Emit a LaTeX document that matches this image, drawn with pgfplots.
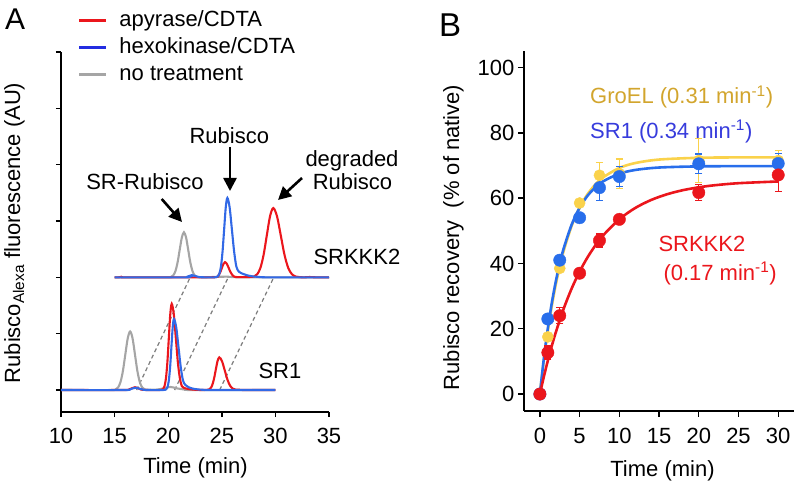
\documentclass[border=0pt]{standalone}
\usepackage{fontspec}
\setmainfont{Liberation Sans}
\usepackage{pgfplots}
\pgfplotsset{compat=1.18}
\usetikzlibrary{arrows.meta}
\definecolor{cred}{RGB}{235,22,28}
\definecolor{cblueA}{RGB}{50,105,230}
\definecolor{cblueL}{RGB}{35,45,225}
\definecolor{cgray}{RGB}{165,165,165}
\definecolor{cdash}{RGB}{125,125,125}
\definecolor{cblueB}{RGB}{40,110,235}
\definecolor{cyel}{RGB}{250,210,75}
\definecolor{cgold}{RGB}{210,165,45}
\definecolor{csr1}{RGB}{55,60,220}
\newcommand{\F}{\fontsize{22}{26}\selectfont}
\pgfplotsset{mystyle/.style={scale only axis, anchor=south west,
  axis x line*=bottom, axis y line*=left, tick align=outside,
  axis line style={line width=1.6pt, black},
  tick style={line width=1.4pt, black},
  tick label style={font=\F},
  /pgf/number format/assume math mode=true,
  xticklabel style={inner sep=0pt, yshift=-11pt},
  yticklabel style={inner sep=0pt, xshift=-3.5pt}},
  myerr/.style={error bars/.cd, y dir=both, y explicit,
  error bar style={line width=1.3pt},
  error mark options={rotate=90, mark size=3.5pt, line width=1.3pt}}}
\begin{document}
\begin{tikzpicture}[font=\F]
% ---------------- Panel A ----------------
\begin{axis}[mystyle, at={(61pt,-412pt)}, width=268pt, height=360pt,
  xmin=10, xmax=35, ymin=-0.39, ymax=6,
  xtick={10,15,...,35}, ytick={0,...,6}, yticklabels={},
  major tick length=5pt,
  legend style={at={(axis description cs:0.063,1.117)}, anchor=north west,
    draw=none, fill=none, inner sep=0pt, font=\F, row sep=6pt,
    nodes={inner sep=0pt, text height=16pt, text depth=5pt},
    /tikz/every odd column/.append style={column sep=12pt}},
  legend cell align=left,
  legend image code/.code={\draw[#1, line width=2.4pt] (0pt,0pt) -- (27pt,0pt);}]
\addlegendimage{cred}
\addlegendimage{cblueL}
\addlegendimage{cgray}
\legend{apyrase/CDTA, hexokinase/CDTA, no treatment}
% dashed guides
\addplot[cdash, line width=1.2pt, dash pattern=on 4pt off 3pt, forget plot] coordinates {(17.05,0) (22.05,2)};
\addplot[cdash, line width=1.2pt, dash pattern=on 4pt off 3pt, forget plot] coordinates {(20.6,0) (25.6,2)};
\addplot[cdash, line width=1.2pt, dash pattern=on 4pt off 3pt, forget plot] coordinates {(24.8,0) (29.85,2)};
% SR1 traces
\addplot[cgray, line width=2.1pt, smooth, forget plot] coordinates {(10,0)(14.7,0)(15.1,0.012)(15.325,0.046)(15.55,0.141)(15.775,0.338)(16.0,0.631)(16.225,0.918)(16.45,1.04)(16.675,0.918)(16.9,0.631)(17.125,0.338)(17.35,0.141)(17.575,0.046)(17.8,0.012)(18.2,0.004)(19.0,0.01)(19.6,0.03)(20.2,0.055)(20.8,0.03)(21.5,0.01)(22.3,0)(30,0)};
\addplot[cred, line width=2.1pt, smooth, forget plot] coordinates {(10,0)(15.6,0)(16.3,0.007)(16.6,0.03)(16.9,0.05)(17.2,0.03)(17.5,0.007)(18,0)(19.2,0)(19.52,0.017)(19.655,0.067)(19.79,0.207)(19.925,0.497)(20.06,0.928)(20.195,1.35)(20.33,1.53)(20.52,1.35)(20.71,0.928)(20.9,0.497)(21.09,0.207)(21.28,0.067)(21.5,0.035)(22.0,0.015)(22.6,0.004)(23.2,0)(23.5,0.002)(23.75,0.006)(23.92,0.025)(24.09,0.078)(24.26,0.188)(24.43,0.352)(24.6,0.512)(24.77,0.58)(25.02,0.512)(25.27,0.352)(25.52,0.188)(25.77,0.078)(26.02,0.025)(26.27,0.008)(26.7,0.004)(27.2,0)(30,0)};
\addplot[cblueA, line width=2.1pt, smooth, forget plot] coordinates {(10,0)(15.8,0)(16.4,0.008)(16.7,0.03)(17.0,0.04)(17.3,0.025)(17.7,0.005)(18.2,0)(19.5,0)(19.82,0.014)(19.94,0.055)(20.06,0.17)(20.18,0.409)(20.3,0.764)(20.42,1.112)(20.54,1.26)(20.75,1.112)(20.96,0.764)(21.17,0.409)(21.38,0.17)(21.6,0.09)(21.9,0.05)(22.3,0.025)(22.8,0.01)(23.4,0.003)(24,0)(30,0)};
% SRKKK2 traces
\addplot[cgray, line width=2.1pt, smooth, forget plot] coordinates {(15,2)(19.9,2)(20.27,2.009)(20.47,2.035)(20.67,2.108)(20.87,2.26)(21.07,2.485)(21.27,2.706)(21.47,2.8)(21.67,2.706)(21.87,2.485)(22.07,2.26)(22.27,2.108)(22.47,2.035)(22.67,2.009)(23.1,2)(24,2.005)(25.5,2.012)(27,2.0)(35,2)};
\addplot[cred, line width=2.1pt, smooth, forget plot] coordinates {(15,2)(15.4,2)(15.7,2.012)(16.0,2)(22.0,2)(24.4,2.003)(24.7,2.037)(24.85,2.088)(25.0,2.164)(25.15,2.238)(25.3,2.27)(25.475,2.238)(25.65,2.164)(25.825,2.088)(26.0,2.037)(26.175,2.012)(26.4,2.004)(27.0,2.003)(27.5,2.006)(28.0,2.014)(28.3,2.054)(28.6,2.166)(28.9,2.399)(29.2,2.746)(29.5,3.085)(29.8,3.23)(30.15,3.085)(30.5,2.746)(30.85,2.399)(31.2,2.166)(31.55,2.054)(31.9,2.014)(32.25,2.004)(32.7,2)(33.2,2.006)(33.8,2)(35,2)};
\addplot[cblueA, line width=2.1pt, smooth, forget plot] coordinates {(15,2)(21.5,2)(21.9,2.02)(22.2,2.04)(22.5,2.025)(22.9,2.005)(23.5,2)(24.3,2)(24.62,2.016)(24.77,2.062)(24.92,2.191)(25.07,2.458)(25.22,2.855)(25.37,3.244)(25.52,3.41)(25.73,3.244)(25.94,2.855)(26.15,2.458)(26.36,2.191)(26.6,2.1)(27.0,2.06)(27.5,2.03)(28.0,2.015)(28.6,2.005)(29.5,2)(35,2)};
\end{axis}
% ---------------- Panel B ----------------
\begin{axis}[mystyle, at={(524pt,-410.7pt)}, width=270.1pt, height=359.2pt,
  xmin=-2, xmax=32, ymin=-5.1, ymax=104.9,
  xtick={0,5,...,30}, ytick={0,20,...,100}, major tick length=6pt]
% fits
\addplot[cyel, line width=2.6pt, smooth] coordinates {(0,0)(0.5,10.41)(1,19.33)(1.5,26.96)(2,33.5)(2.5,39.1)(3,43.89)(4,51.52)(5,57.12)(6,61.21)(7,64.22)(8,66.43)(10,69.24)(12,70.74)(15,71.81)(20,72.35)(25,72.47)(30,72.5)};
\addplot[cblueB, line width=2.6pt, smooth] coordinates {(0,0)(0.5,10.91)(1,20.12)(1.5,27.89)(2,34.44)(2.5,39.97)(3,44.63)(4,51.88)(5,57.05)(6,60.73)(7,63.34)(8,65.2)(10,67.47)(12,68.62)(15,69.37)(20,69.72)(25,69.79)(30,69.8)};
\addplot[cred, line width=2.6pt, smooth] coordinates {(0,0)(0.5,5.34)(1,10.24)(1.5,14.74)(2,18.88)(3,26.17)(4,32.32)(5,37.5)(6,41.88)(7,45.57)(8,48.69)(10,53.53)(12,56.98)(14,59.43)(16,61.18)(18,62.43)(20,63.31)(22,63.94)(25,64.57)(30,65.1)};
% data
\addplot[cyel, only marks, mark=*, mark size=5.6pt, myerr]
  table[x=t, y=y, y error=e, row sep=\\] {t y e\\ 0 0 0\\ 1 17.5 1\\ 2.5 38.5 1\\ 5 58.5 1\\ 7.5 67 4\\ 10 67.5 4.5\\ 20 71.5 6.8\\ 30 71.5 3\\};
\addplot[cblueB, only marks, mark=*, mark size=6.2pt, myerr]
  table[x=t, y=y, y error=e, row sep=\\] {t y e\\ 0 0 0\\ 1 23 1\\ 2.5 41 1\\ 5 54 1\\ 7.5 63.2 4\\ 10 66.6 3\\ 20 70.5 3\\ 30 70.6 3\\};
\addplot[cred, only marks, mark=*, mark size=6.2pt, myerr]
  table[x=t, y=y, y error=e, row sep=\\] {t y e\\ 0 0 0\\ 1 12.7 2\\ 2.5 24 2.5\\ 5 37 1\\ 7.5 47 2\\ 10 53.5 1\\ 20 61.7 2.5\\ 30 67.1 5\\};
\end{axis}
% ---------------- Text and annotations ----------------
\tikzset{lbl/.style={inner sep=0pt, font=\F}}
\node[lbl, anchor=base west, font=\fontsize{30}{30}\selectfont] at (5pt,-29.5pt) {A};
\node[lbl, anchor=base west, font=\fontsize{33}{33}\selectfont] at (439pt,-36.5pt) {B};
\node[lbl, anchor=base] at (195.5pt,-473.5pt) {Time (min)};
\node[lbl, anchor=base] at (662.5pt,-476pt) {Time (min)};
\node[lbl, anchor=base, rotate=90] at (20pt,-233pt) {Rubisco\textsubscript{Alexa} fluorescence (AU)};
\node[lbl, anchor=base, rotate=90] at (459pt,-237.5pt) {Rubisco recovery~~(\% of native)};
\node[lbl, anchor=base] at (145pt,-189.3pt) {SR-Rubisco};
\node[lbl, anchor=base] at (229.3pt,-143.3pt) {Rubisco};
\node[lbl, anchor=base] at (352pt,-167pt) {degraded};
\node[lbl, anchor=base] at (352.5pt,-189.3pt) {Rubisco};
\node[lbl, anchor=base west] at (313.3pt,-265pt) {SRKKK2};
\node[lbl, anchor=base west] at (258.3pt,-378.3pt) {SR1};
\draw[-{Triangle[length=13pt,width=13pt]}, line width=2.6pt] (161.7pt,-199pt) -- (182pt,-222pt);
\draw[-{Triangle[length=13pt,width=13pt]}, line width=2.6pt] (230pt,-147pt) -- (230pt,-191pt);
\draw[-{Triangle[length=13pt,width=13pt]}, line width=2.6pt] (302pt,-178pt) -- (278pt,-200pt);
\node[lbl, anchor=base west, text=cgold] at (590pt,-104pt) {GroEL (0.31 min\textsuperscript{-1})};
\node[lbl, anchor=base west, text=csr1] at (590pt,-138.3pt) {SR1 (0.34 min\textsuperscript{-1})};
\node[lbl, anchor=base west, text=cred] at (658.3pt,-251.7pt) {SRKKK2};
\node[lbl, anchor=base west, text=cred] at (663.3pt,-280pt) {(0.17 min\textsuperscript{-1})};
\pgfresetboundingbox
\path[use as bounding box] (0pt,0pt) rectangle (796pt,-484pt);
\end{tikzpicture}
\end{document}
